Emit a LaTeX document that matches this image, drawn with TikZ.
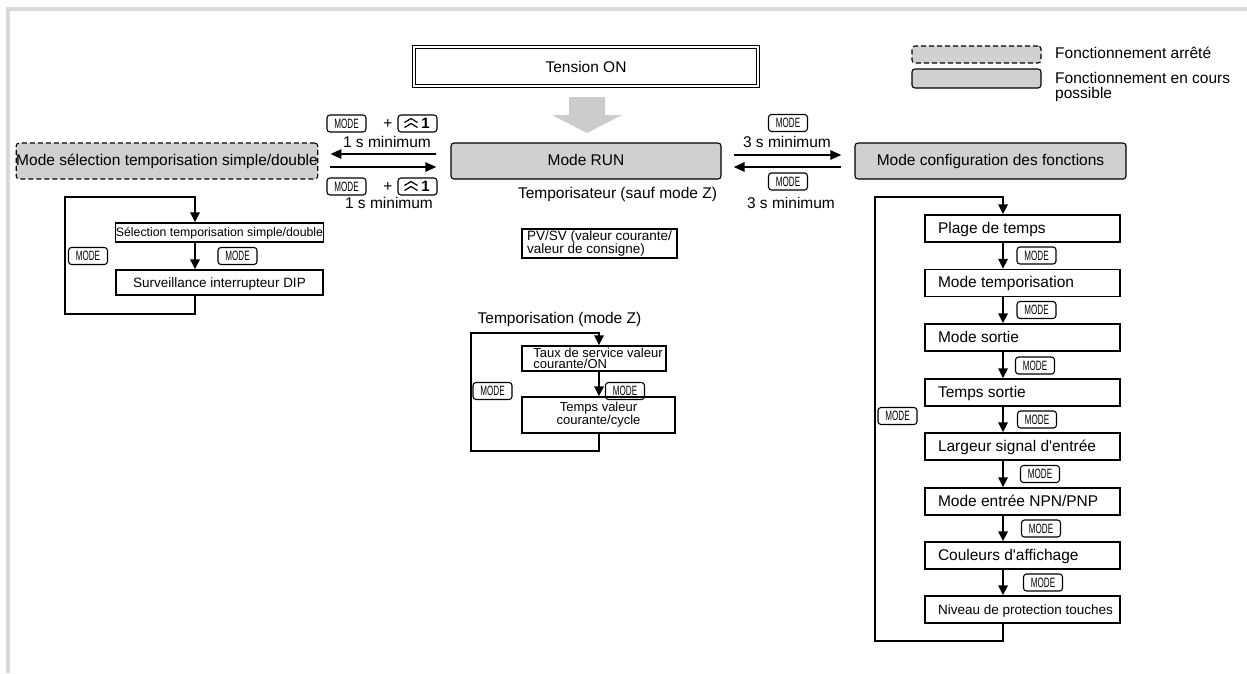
\documentclass[tikz,border=0pt]{standalone}
\usepackage{fontspec}
\setmainfont{Liberation Sans}[Ligatures=TeXOff]
\usetikzlibrary{arrows.meta,calc}
\definecolor{boxgray}{RGB}{208,208,208}
\definecolor{framegray}{RGB}{217,217,217}
\definecolor{arrowgray}{RGB}{204,204,204}
\newcommand\keytxt{\scalebox{0.6}[1]{\fontsize{13.5}{13.5}\selectfont MODE}}
\newcommand\leftin[1]{\makebox[169pt][l]{#1}}
\tikzset{
  upkey/.pic={
    \node[key] (-k) at (0,0) {};
    \draw[line width=1.2pt] (-13,-1) -- (-6.5,-5) -- (0,-1);
    \draw[line width=1.2pt] (-13,4) -- (-6.5,0) -- (0,4);
    \node[font=\fontsize{15}{15}\selectfont\bfseries] (-one) at (8,0) {1};
  }
}
\begin{document}
\begin{tikzpicture}[x=1pt,y=-1pt,
  every node/.style={font=\fontsize{15.5}{17}\selectfont, inner sep=0pt},
  gbox/.style={draw, fill=boxgray, rounded corners=3pt, line width=1.1pt, minimum height=36pt, text height=11pt, text depth=2pt},
  dbox/.style={gbox, dash pattern=on 5pt off 3pt},
  pbox/.style={draw, line width=1.1pt},
  fbox/.style={pbox, minimum width=195pt, minimum height=27pt, inner xsep=13pt, text height=11pt, text depth=2pt},
  key/.style={draw, rounded corners=3pt, line width=1.1pt, minimum width=39pt, minimum height=17pt, inner sep=0pt},
  arr/.style={line width=2.5pt, -{Triangle[length=11pt,width=9pt]}},
  loopline/.style={line width=2.6pt, -{Triangle[length=10pt,width=9pt]}},
]
\path[use as bounding box] (0,0) rectangle (1247,673);
\draw[framegray, line width=4pt] (1247,9) -- (8,9) -- (8,673);

% legend
\node[dbox, minimum width=129pt, minimum height=17pt] (lg1) at (976.5,54.5) {};
\node[gbox, minimum width=129pt, minimum height=19pt] (lg2) at (976.5,78.5) {};
\node[anchor=base west] (lt1) at (1055,58.5) {Fonctionnement arrêté};
\node[anchor=west, align=left, font=\fontsize{15.5}{14.5}\selectfont] (lt2) at (1055,87) {Fonctionnement en cours\\possible};

% top
\node[draw, double, double distance=2pt, line width=0.9pt, minimum width=344pt, minimum height=39pt] (ten) at (586,66.5) {Tension ON};
\fill[arrowgray] (569,97) -- (605,97) -- (605,115) -- (622,115) -- (587,133) -- (552,115) -- (569,115) -- cycle;

% main modes
\node[gbox, minimum width=270pt] (run) at (586,161) {Mode RUN};
\node[dbox, minimum width=298pt] (sel) at (167,161) {Mode sélection temporisation simple/double};
\node[gbox, minimum width=271pt] (conf) at (990.5,161) {Mode configuration des fonctions};
\node[anchor=base] (tsz) at (617.5,198) {Temporisateur (sauf mode Z)};

% left transitions
\draw[arr, shorten <=14pt, shorten >=12pt] ($(run.west)+(0,-7)$) -- ($(sel.east)+(0,-7)$);
\draw[arr, shorten <=12pt, shorten >=14pt] ($(sel.east)+(0,6)$) -- ($(run.west)+(0,6)$);
\node[key] (k1) at (346.5,123.5) {\keytxt};
\node (p1) at (388,124.5) {+};
\pic (u1) at (417.5,123.5) {upkey};
\node[anchor=base] (m1) at (387,147) {1 s minimum};
\node[key] (k2) at (346.5,186.5) {\keytxt};
\node (p2) at (388,187.5) {+};
\pic (u2) at (417.5,186.5) {upkey};
\node[anchor=base] (m2) at (389,208) {1 s minimum};

% right transitions
\draw[arr, shorten <=12pt, shorten >=13pt] ($(run.east)+(0,-6)$) -- ($(conf.west)+(0,-6)$);
\draw[arr, shorten <=13pt, shorten >=12pt] ($(conf.west)+(0,6)$) -- ($(run.east)+(0,6)$);
\node[key] (k3) at (788,123) {\keytxt};
\node[anchor=base] (m3) at (787,147) {3 s minimum};
\node[key] (k4) at (788,181.5) {\keytxt};
\node[anchor=base] (m4) at (791,208) {3 s minimum};

% left sub flow
\node[pbox, minimum width=207pt, minimum height=19pt, font=\fontsize{12.3}{13}\selectfont, text height=8.8pt, text depth=0pt] (s1) at (219.5,232.5) {Sélection temporisation simple/double};
\node[pbox, minimum width=207pt, minimum height=25pt, font=\fontsize{13.5}{15}\selectfont, text height=9.7pt, text depth=0pt] (s2) at (219.5,282.5) {Surveillance interrupteur DIP};
\coordinate (sax) at (195,0);
\coordinate (sbl) at (65,314);
\coordinate (stl) at (65,197);
\draw[loopline] (s1.south -| sax) -- (s2.north -| sax);
\draw[loopline] (s2.south -| sax) |- (sbl) -- (stl) -| (s1.north -| sax);
\node[key] (k5) at (88,256) {\keytxt};
\node[key] (k6) at (237.5,256) {\keytxt};

% PV/SV
\node[pbox, align=left, minimum width=155pt, minimum height=29pt, font=\fontsize{13.5}{10.5}\selectfont] (pv) at (599.5,243.5) {PV/SV (valeur courante/\\valeur de consigne)};

% Z flow
\node[anchor=base] (tz) at (559.5,323.3) {Temporisation (mode Z)};
\node[pbox, align=left, minimum width=144pt, minimum height=25pt, font=\fontsize{13}{11}\selectfont] (z1) at (594,358.5) {\hspace*{8pt}Taux de service valeur\\\hspace*{8pt}courante/ON};
\node[pbox, align=center, minimum width=153pt, minimum height=36pt, font=\fontsize{13}{10.5}\selectfont] (z2) at (598.5,415) {Temps valeur\\courante/cycle};
\coordinate (zax) at (599,0);
\coordinate (zbl) at (471,451);
\coordinate (ztl) at (471,333);
\draw[loopline] (z1.south -| zax) -- (z2.north -| zax);
\draw[loopline] (z2.south -| zax) |- (zbl) -- (ztl) -| (z1.north -| zax);
\node[key] (k7) at (492.5,391) {\keytxt};
\node[key] (k8) at (625,391) {\keytxt};

% right flow
\node[fbox] (f1) at (1022.5,228.5) {\leftin{Plage de temps}};
\node[fbox] (f2) at (1022.5,283) {\leftin{Mode temporisation}};
\node[fbox] (f3) at (1022.5,337.5) {\leftin{Mode sortie}};
\node[fbox] (f4) at (1022.5,392.5) {\leftin{Temps sortie}};
\node[fbox] (f5) at (1022.5,446.5) {\leftin{Largeur signal d'entrée}};
\node[fbox] (f6) at (1022.5,501.5) {\leftin{Mode entrée NPN/PNP}};
\node[fbox] (f7) at (1022.5,555.5) {\leftin{Couleurs d'affichage}};
\node[fbox, font=\fontsize{13.5}{15}\selectfont, text height=9.7pt, text depth=0pt] (f8) at (1022.5,609.5) {\leftin{Niveau de protection touches}};
\coordinate (rax) at (1003,0);
\coordinate (rbl) at (875,641);
\coordinate (rtl) at (875,197);
\foreach \a/\b in {f1/f2,f2/f3,f3/f4,f4/f5,f5/f6,f6/f7,f7/f8}
  \draw[loopline] (\a.south -| rax) -- (\b.north -| rax);
\draw[loopline] (f8.south -| rax) |- (rbl) -- (rtl) -| (f1.north -| rax);
\node[key] (r1) at (1036.5,255.5) {\keytxt};
\node[key] (r2) at (1036.5,310) {\keytxt};
\node[key] (r3) at (1035,365.5) {\keytxt};
\node[key] (r4) at (1037,419.5) {\keytxt};
\node[key] (r5) at (1040,474) {\keytxt};
\node[key] (r6) at (1041,528.5) {\keytxt};
\node[key] (r7) at (1043,582.5) {\keytxt};
\node[key] (r8) at (897.5,416) {\keytxt};
\end{tikzpicture}
\end{document}
